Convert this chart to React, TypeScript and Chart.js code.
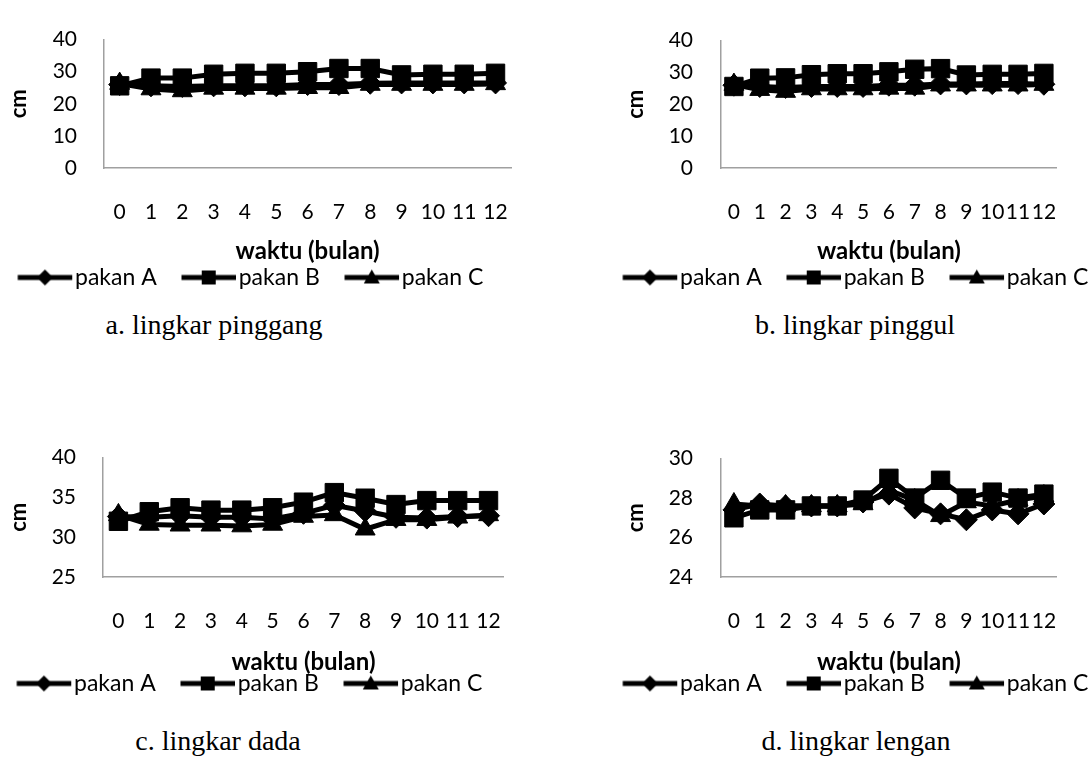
import React, { useEffect, useRef } from "react";
import { Chart, registerables } from "chart.js";

Chart.register(...registerables);

// ---------- data ----------
const months = ["0", "1", "2", "3", "4", "5", "6", "7", "8", "9", "10", "11", "12"];
const seriesNames = ["pakan A", "pakan B", "pakan C"];

// a. lingkar pinggang
const pinggangA = [26, 25.6, 25.4, 25.6, 25.6, 25.6, 26, 26, 26.4, 26.5, 26.5, 26.5, 26.5];
const pinggangB = [25.6, 28, 28, 29.2, 29.5, 29.5, 30, 31, 31, 29, 29.2, 29.2, 29.5];
const pinggangC = [26.3, 24.6, 24, 24.8, 24.8, 24.8, 25, 25, 26, 26, 26, 26, 26.2];
const pinggangTicks = [0, 10, 20, 30, 40];

// b. lingkar pinggul
const pinggulA = [26, 25.6, 25.3, 25.6, 25.6, 25.6, 26, 26, 26.4, 26.4, 26.5, 26.5, 26.3];
const pinggulB = [25.6, 28.2, 28.3, 29.3, 29.6, 29.6, 30.2, 31, 31.2, 29.2, 29.4, 29.4, 29.7];
const pinggulC = [26.2, 24.6, 24, 24.8, 24.8, 24.8, 25, 25, 26, 26, 26, 26, 26.2];
const pinggulTicks = [0, 10, 20, 30, 40];

// c. lingkar dada
const dadaA = [32.6, 32.5, 32.7, 32.5, 32.5, 32.3, 33, 34, 33.3, 32.5, 32.4, 32.6, 32.7];
const dadaB = [32, 33.2, 33.7, 33.4, 33.4, 33.7, 34.4, 35.6, 34.9, 34.1, 34.6, 34.6, 34.6];
const dadaC = [32.8, 31.6, 31.5, 31.5, 31.4, 31.6, 32.6, 32.8, 31, 32.2, 32.2, 32.5, 32.8];
const dadaTicks = [25, 30, 35, 40];

// d. lingkar lengan
const lenganA = [27.4, 27.7, 27.6, 27.6, 27.6, 27.8, 28.2, 27.5, 27.2, 26.9, 27.4, 27.2, 27.7];
const lenganB = [27.0, 27.4, 27.4, 27.6, 27.6, 27.9, 29.0, 28.0, 28.9, 28.0, 28.3, 28.0, 28.2];
const lenganC = [27.7, 27.6, 27.6, 27.6, 27.6, 27.7, 28.4, 27.9, 27.1, 27.8, 27.6, 27.9, 28.1];
const lenganTicks = [24, 26, 28, 30];

const xTitle = "waktu (bulan)";
const yTitle = "cm";
const captions = ["a. lingkar pinggang", "b. lingkar pinggul", "c. lingkar dada", "d. lingkar lengan"];

// ---------- layout ----------
type PanelCfg = {
  values: number[][];
  ticks: number[];
  left: number; top: number; width: number;
  plotLeft: number; plotRight: number; plotTop: number; plotBottom: number;
  labelY: number; titleY: number; legendY: number; legendX: number;
  yPad: number; cmX: number;
};

const FONT = "Lato";
const TICK_FS = 21;
const LEG_FS = 23;
const TITLE_FS = 24;
const CM_FS = 22;
const LEG_PAD = 4;
const GAP_L = 21;
const LINE_LEN = 57;
const STYLES = ["rectRot", "rect", "triangle"];
const RADII = [11, 13, 11.5];

function legendIcon(kind: string, boxW: number, fs: number, gapL: number) {
  const imgW = Math.round(boxW + fs);
  const h = 24;
  const c = document.createElement("canvas");
  c.width = imgW;
  c.height = h;
  const g = c.getContext("2d")!;
  const x0 = gapL + fs / 2;
  const x1 = imgW - 3;
  const cy = h / 2;
  g.strokeStyle = "#000";
  g.lineWidth = 5;
  g.beginPath();
  g.moveTo(x0, cy);
  g.lineTo(x1, cy);
  g.stroke();
  const cx = (x0 + x1) / 2;
  g.fillStyle = "#000";
  g.beginPath();
  if (kind === "rectRot") {
    const r = 8;
    g.moveTo(cx, cy - r);
    g.lineTo(cx + r, cy);
    g.lineTo(cx, cy + r);
    g.lineTo(cx - r, cy);
  } else if (kind === "rect") {
    g.rect(cx - 7, cy - 7, 14, 14);
  } else {
    g.moveTo(cx, cy - 8);
    g.lineTo(cx + 8, cy + 6);
    g.lineTo(cx - 8, cy + 6);
  }
  g.closePath();
  g.fill();
  return c;
}

function Panel({ cfg }: { cfg: PanelCfg }) {
  const ref = useRef<HTMLCanvasElement | null>(null);
  const canvasH = Math.round(cfg.legendY - cfg.top + 10 + LEG_FS / 2);
  useEffect(() => {
    if (!ref.current) return;
    const boxW = LINE_LEN - LEG_FS / 2 + GAP_L;
    const icons = STYLES.map((s) => legendIcon(s, boxW, LEG_FS, GAP_L));
    const legendH = LEG_FS + LEG_PAD + 10;
    const xBoxBottom = cfg.top + canvasH - legendH;
    const xAxisH = xBoxBottom - cfg.plotBottom;
    const labelPad = cfg.labelY - cfg.plotBottom - (TICK_FS * 1.2) / 2;
    const titlePadB = xBoxBottom - cfg.titleY - (TITLE_FS * 1.2) / 2;
    const cmPadTop = cfg.cmX - cfg.left - (CM_FS * 1.2) / 2;
    const legendLeft = cfg.legendX - cfg.left - LEG_PAD - GAP_L;
    const tks = cfg.ticks;
    const shiftLegend = {
      id: "shiftLegend",
      afterLayout(chart: any) {
        const lg = chart.legend;
        if (!lg) return;
        const w = lg.right - lg.left;
        lg.left = legendLeft;
        lg.right = legendLeft + w;
      },
    };
    const chart = new Chart(ref.current, {
      type: "line",
      data: {
        labels: months,
        datasets: cfg.values.map((vals, i) => ({
          label: seriesNames[i],
          data: vals,
          borderColor: "#000",
          backgroundColor: "#000",
          borderWidth: 5,
          pointStyle: STYLES[i] as any,
          pointRadius: RADII[i],
          pointHoverRadius: RADII[i],
          pointBorderWidth: 1,
          pointBackgroundColor: "#000",
          pointBorderColor: "#000",
          tension: 0,
          clip: false as any,
        })),
      },
      plugins: [shiftLegend],
      options: {
        responsive: false,
        animation: false,
        devicePixelRatio: 1,
        layout: {
          padding: {
            top: cfg.plotTop - cfg.top,
            right: cfg.left + cfg.width - cfg.plotRight,
            left: 0,
            bottom: 0,
          },
        },
        plugins: {
          tooltip: { enabled: false },
          legend: {
            position: "bottom",
            align: "start",
            labels: {
              usePointStyle: true,
              pointStyleWidth: boxW,
              padding: LEG_PAD,
              color: "#000",
              font: { family: FONT, size: LEG_FS },
              generateLabels: (ch: any) =>
                ch.data.datasets.map((ds: any, i: number) => ({
                  text: ds.label,
                  pointStyle: icons[i],
                  fillStyle: "#000",
                  strokeStyle: "#000",
                  lineWidth: 0,
                  hidden: false,
                  datasetIndex: i,
                  fontColor: "#000",
                })),
            },
          },
        },
        scales: {
          x: {
            type: "category",
            offset: true,
            grid: { display: false, drawTicks: false },
            border: { display: true, color: "#a0a0a0", width: 1.5 },
            ticks: {
              color: "#000",
              font: { family: FONT, size: TICK_FS },
              padding: labelPad,
              maxRotation: 0,
              autoSkip: false,
            },
            title: {
              display: true,
              text: xTitle,
              color: "#000",
              font: { family: FONT, size: TITLE_FS, weight: "bold" },
              padding: { top: 0, bottom: titlePadB },
            },
            afterFit: (s: any) => {
              s.height = xAxisH;
            },
          },
          y: {
            min: tks[0],
            max: tks[tks.length - 1],
            grid: { display: false, drawTicks: false },
            border: { display: true, color: "#a0a0a0", width: 1.5 },
            ticks: {
              stepSize: tks[1] - tks[0],
              color: "#000",
              font: { family: FONT, size: TICK_FS },
              padding: cfg.yPad,
            },
            title: {
              display: true,
              text: yTitle,
              color: "#000",
              font: { family: FONT, size: CM_FS, weight: "bold" },
              padding: { top: cmPadTop, bottom: 0 },
            },
            afterFit: (s: any) => {
              s.width = cfg.plotLeft - cfg.left;
            },
          },
        },
      },
    } as any);
    return () => chart.destroy();
  }, []);
  return (
    <canvas
      ref={ref}
      width={cfg.width}
      height={canvasH}
      style={{ position: "absolute", left: cfg.left, top: cfg.top, width: cfg.width, height: canvasH }}
    />
  );
}

const panels: PanelCfg[] = [
  {
    values: [pinggangA, pinggangB, pinggangC], ticks: pinggangTicks,
    left: 0, top: 0, width: 540,
    plotLeft: 104, plotRight: 517, plotTop: 25, plotBottom: 168,
    labelY: 212, titleY: 251, legendY: 277, legendX: 18, yPad: 27, cmX: 19,
  },
  {
    values: [pinggulA, pinggulB, pinggulC], ticks: pinggulTicks,
    left: 570, top: 0, width: 518,
    plotLeft: 721, plotRight: 1088, plotTop: 25, plotBottom: 168,
    labelY: 212, titleY: 251, legendY: 277, legendX: 623, yPad: 28, cmX: 636,
  },
  {
    values: [dadaA, dadaB, dadaC], ticks: dadaTicks,
    left: 0, top: 418, width: 533,
    plotLeft: 103, plotRight: 510, plotTop: 443, plotBottom: 577,
    labelY: 621, titleY: 662, legendY: 683, legendX: 17, yPad: 27, cmX: 19,
  },
  {
    values: [lenganA, lenganB, lenganC], ticks: lenganTicks,
    left: 570, top: 418, width: 518,
    plotLeft: 721, plotRight: 1088, plotTop: 443, plotBottom: 577,
    labelY: 621, titleY: 662, legendY: 683, legendX: 623, yPad: 28, cmX: 636,
  },
];

const captionPos = [
  { x: 214, y: 325 },
  { x: 855, y: 325 },
  { x: 218, y: 741 },
  { x: 856, y: 741 },
];

export default function App() {
  return (
    <div style={{ position: "absolute", left: 0, top: 0, width: 1088, height: 763, background: "#fff", overflow: "hidden" }}>
      {panels.map((p, i) => (
        <Panel key={i} cfg={p} />
      ))}
      {captions.map((t, i) => (
        <div
          key={"c" + i}
          style={{
            position: "absolute",
            left: captionPos[i].x,
            top: captionPos[i].y,
            transform: "translate(-50%, -50%)",
            fontFamily: "'Liberation Serif', 'Times New Roman', serif",
            fontSize: 28,
            lineHeight: "32px",
            whiteSpace: "nowrap",
            color: "#000",
          }}
        >
          {t}
        </div>
      ))}
    </div>
  );
}
